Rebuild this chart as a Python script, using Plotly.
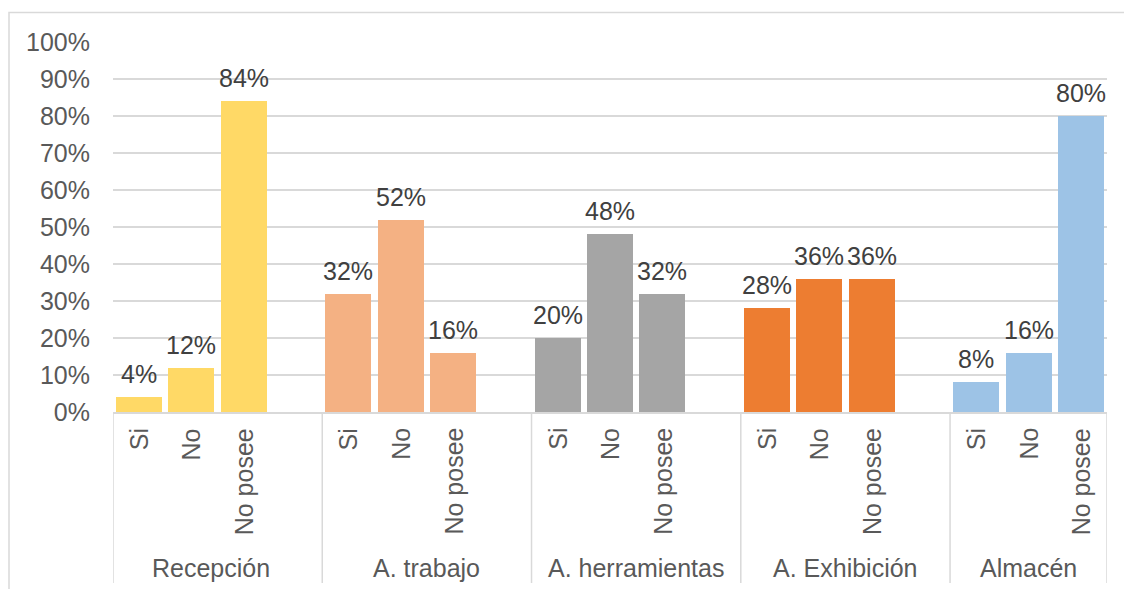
import plotly.graph_objects as go

# Survey results per area
groups = ["Recepción", "A. trabajo", "A. herramientas", "A. Exhibición", "Almacén"]
answers = ["Si", "No", "No posee"]

recepcion = [4, 12, 84]
trabajo = [32, 52, 16]
herramientas = [20, 48, 32]
exhibicion = [28, 36, 36]
almacen = [8, 16, 80]

series = [recepcion, trabajo, herramientas, exhibicion, almacen]
colors = ["#FFD966", "#F4B183", "#A5A5A5", "#ED7D31", "#9DC3E6"]

FONT = "Liberation Sans, Arial, sans-serif"
FS = 25
AXIS_GREY = "#595959"
LABEL_GREY = "#404040"
LINE_GREY = "#D9D9D9"

W, H = 1124, 589
ML, MR, MT, MB = 113, 17, 42, 177
PW, PH = W - ML - MR, H - MT - MB

# each group occupies 4 slots (3 bars + blank spacer), the last one only 3
slot = 4
n_slots = slot * (len(groups) - 1) + len(answers)


def px_to_paper_x(px):
    return (px - ML) / PW


def px_to_paper_y(py):
    return (H - MB - py) / PH


fig = go.Figure()
annotations = []
shapes = []

for g, (name, vals, col) in enumerate(zip(groups, series, colors)):
    xs = [slot * g + a for a in range(len(answers))]
    ys = [v / 100 for v in vals]
    fig.add_trace(go.Bar(
        x=xs,
        y=ys,
        width=0.88,
        marker=dict(color=col, line=dict(width=0)),
        name=name,
        showlegend=False,
        hoverinfo="skip",
    ))
    # value labels above each bar
    for x, y, v in zip(xs, ys, vals):
        annotations.append(dict(
            x=x, y=y, xref="x", yref="y", text=f"{v}%",
            showarrow=False, xanchor="center", yanchor="middle", yshift=23,
            font=dict(family=FONT, size=FS, color=LABEL_GREY),
        ))

# answer labels (rotated) and group labels
for g, name in enumerate(groups):
    for a, ans in enumerate(answers):
        annotations.append(dict(
            x=slot * g + a, y=px_to_paper_y(426), xref="x", yref="paper",
            text=ans, textangle=-90, showarrow=False,
            xanchor="center", yanchor="top",
            font=dict(family=FONT, size=FS, color=AXIS_GREY),
        ))
    left = slot * g - 0.5
    right = min(slot * g + slot - 0.5, n_slots - 0.5)
    center = (left + right) / 2
    if g == 0:
        center -= 0.13
    annotations.append(dict(
        x=center, y=px_to_paper_y(568), xref="x", yref="paper",
        text=name, showarrow=False, xanchor="center", yanchor="middle",
        font=dict(family=FONT, size=FS, color=AXIS_GREY),
    ))

# group dividers below the axis
dividers = [slot * g - 0.5 for g in range(len(groups))] + [n_slots - 0.5]
for xd in dividers:
    shapes.append(dict(
        type="line", xref="x", yref="paper",
        x0=xd, x1=xd, y0=0, y1=px_to_paper_y(583),
        line=dict(color=LINE_GREY, width=1.5),
    ))

# chart frame
shapes.append(dict(
    type="rect", xref="paper", yref="paper",
    x0=px_to_paper_x(9), x1=px_to_paper_x(1140),
    y0=px_to_paper_y(610), y1=px_to_paper_y(12.5),
    line=dict(color=LINE_GREY, width=1.5), fillcolor="rgba(0,0,0,0)",
    layer="below",
))

fig.update_layout(
    width=W, height=H,
    margin=dict(l=ML, r=MR, t=MT, b=MB),
    paper_bgcolor="white", plot_bgcolor="white",
    bargap=0,
    annotations=annotations,
    shapes=shapes,
    xaxis=dict(
        range=[-0.5, n_slots - 0.5],
        showticklabels=False, showgrid=False, zeroline=False,
        showline=True, linecolor=LINE_GREY, linewidth=1.5,
        ticks="",
    ),
    yaxis=dict(
        range=[0, 1], dtick=0.1, tickformat=".0%",
        showgrid=True, gridcolor=LINE_GREY, gridwidth=1.5,
        zeroline=False, showline=False, ticks="",
        ticklabelstandoff=22,
        tickfont=dict(family=FONT, size=FS, color=AXIS_GREY),
    ),
)

fig.write_html("out.html")
